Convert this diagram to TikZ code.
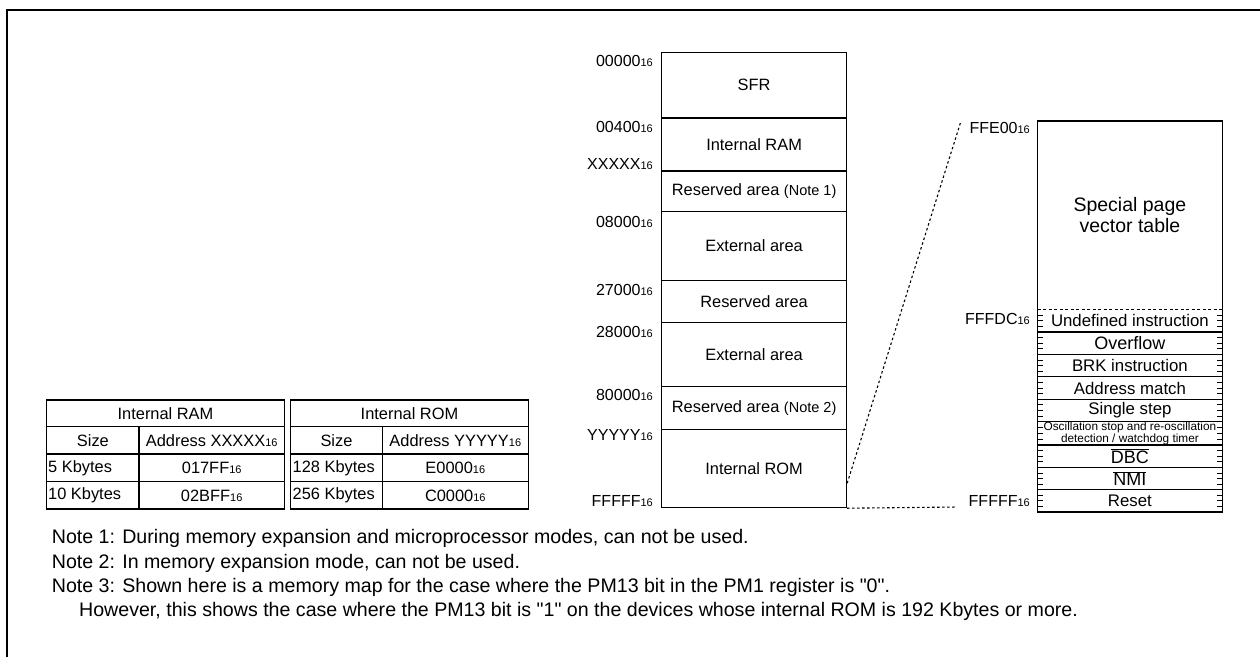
\documentclass[tikz,border=0pt]{standalone}
\usepackage{fontspec}
\setmainfont{Liberation Sans}[Ligatures=TeXOff]
\usetikzlibrary{calc}
\newcommand{\sixteen}{{\fontsize{11}{11}\selectfont 16}}
\tikzset{
  lw/.style={line width=1.2pt},
  blk/.style={draw, line width=1.2pt, minimum width=185pt, inner sep=0pt, anchor=north west, font=\fontsize{16.4}{18}\selectfont},
  addr/.style={inner sep=0pt, anchor=east, font=\fontsize{16}{18}\selectfont},
  vrow/.style={minimum width=184pt, minimum height=21.97pt, inner sep=0pt, anchor=north west, font=\fontsize{16.8}{18}\selectfont},
  cell/.style={inner sep=0pt, font=\fontsize{16.4}{18}\selectfont},
  note/.style={inner sep=0pt, anchor=west, font=\fontsize{19.6}{22}\selectfont},
  dots/.style={line width=1.1pt, dash pattern=on 2.5pt off 2.5pt},
  tick/.style={line width=0.8pt}
}
\begin{document}
\begin{tikzpicture}[x=1pt, y=-1pt]
\useasboundingbox (0,0) rectangle (1260,657);
% frame
\draw[line width=2pt] (6.7,657) -- (6.7,10) -- (1260,10);

% memory map
\node[blk, minimum height=65.6pt] (sfr) at (661,51.7) {SFR};
\node[blk, minimum height=53pt] (iram) at (661,117.3) {Internal RAM};
\node[blk, minimum height=40.7pt] (res1) at (661,170.3) {Reserved area {\fontsize{14.5}{16}\selectfont(Note 1)}};
\node[blk, minimum height=69pt] (ext1) at (661,211) {External area};
\node[blk, minimum height=41.7pt] (res2) at (661,280) {Reserved area};
\node[blk, minimum height=64.3pt] (ext2) at (661,321.7) {External area};
\node[blk, minimum height=43pt] (res3) at (661,386) {Reserved area {\fontsize{14.5}{16}\selectfont(Note 2)}};
\node[blk, minimum height=78pt] (rom) at (661,429) {Internal ROM};

% address labels
\node[addr] (a0) at (653,61) {00000\sixteen};
\node[addr] (a1) at (653,127) {00400\sixteen};
\node[addr] (ax) at (653,164) {XXXXX\sixteen};
\node[addr] (a2) at (653,221.5) {08000\sixteen};
\node[addr] (a3) at (653,289.5) {27000\sixteen};
\node[addr] (a4) at (653,331.5) {28000\sixteen};
\node[addr] (a5) at (653,395) {80000\sixteen};
\node[addr] (ay) at (653,435) {YYYYY\sixteen};
\node[addr] (af) at (653,501) {FFFFF\sixteen};

% vector table
\node[vrow, minimum height=188.3pt, align=center, font=\fontsize{19.5}{21}\selectfont] (spv) at (1037.7,121) {Special page\\vector table};
\node[vrow] (v1) at (spv.south west) {Undefined instruction};
\node[vrow, font=\fontsize{18}{18}\selectfont] (v2) at (v1.south west) {Overflow};
\node[vrow] (v3) at (v2.south west) {BRK instruction};
\node[vrow] (v4) at (v3.south west) {Address match};
\node[vrow] (v5) at (v4.south west) {Single step};
\node[vrow, align=center, font=\fontsize{11.8}{8.6}\selectfont] (v6) at (v5.south west) {Oscillation stop and re-oscillation\\detection / watchdog timer};
\node[vrow, font=\fontsize{18}{18}\selectfont] (v7) at (v6.south west) {$\overline{\mbox{DBC}}$};
\node[vrow, font=\fontsize{18}{18}\selectfont] (v8) at (v7.south west) {$\overline{\mbox{NMI}}$};
\node[vrow] (v9) at (v8.south west) {Reset};

\draw[lw] (spv.north west) rectangle (v9.south east);
\draw[line width=1.1pt, dash pattern=on 3pt off 2.5pt] (spv.south west) -- (spv.south east);
\foreach \n in {v1,v2,v3,v4,v5,v6,v7,v8} {
  \draw[lw] (\n.south west) -- (\n.south east);
}
\foreach \n in {v1,v2,v3,v4,v5,v6,v7,v8,v9} {
  \foreach \f in {0.25,0.5,0.75} {
    \draw[tick] ($(\n.north west)!\f!(\n.south west)$) -- ++(5,0);
    \draw[tick] ($(\n.north east)!\f!(\n.south east)$) -- ++(-5,0);
  }
}

\node[addr] (b0) at (1030,128) {FFE00\sixteen};
\node[addr] (b1) at (1030,319.3) {FFFDC\sixteen};
\node[addr] (b2) at (1030,501) {FFFFF\sixteen};

% zoom lines
\coordinate (zs) at ($(rom.south east)+(0,-25)$);
\coordinate (zt) at (961,121);
\coordinate (ze) at (957,507);
\draw[dots] (zs) -- (zt);
\draw[dots] (rom.south east) -- (ze);

% RAM table
\draw[lw] (46.7,400) rectangle (284.3,509);
\draw[lw] (46.7,426.7) -- (284.3,426.7) (46.7,454) -- (284.3,454) (46.7,481.7) -- (284.3,481.7);
\draw[lw] (139,426.7) -- (139,509);
\node[cell] (t1h) at (165.5,413.5) {Internal RAM};
\node[cell] (t1s) at (92.9,440.5) {Size};
\node[cell] (t1a) at (211.7,440.5) {Address XXXXX\sixteen};
\node[cell, anchor=west] (t1r1) at (48,468) {5 Kbytes};
\node[cell] (t1v1) at (211.7,468) {017FF\sixteen};
\node[cell, anchor=west] (t1r2) at (48,495.5) {10 Kbytes};
\node[cell] (t1v2) at (211.7,495.5) {02BFF\sixteen};

% ROM table
\draw[lw] (290.7,400) rectangle (528.3,509);
\draw[lw] (290.7,426.7) -- (528.3,426.7) (290.7,454) -- (528.3,454) (290.7,481.7) -- (528.3,481.7);
\draw[lw] (382.3,426.7) -- (382.3,509);
\node[cell] (t2h) at (409.5,413.5) {Internal ROM};
\node[cell] (t2s) at (336.5,440.5) {Size};
\node[cell] (t2a) at (455.3,440.5) {Address YYYYY\sixteen};
\node[cell, anchor=west] (t2r1) at (292.5,468) {128 Kbytes};
\node[cell] (t2v1) at (455.3,468) {E0000\sixteen};
\node[cell, anchor=west] (t2r2) at (292.5,495.5) {256 Kbytes};
\node[cell] (t2v2) at (455.3,495.5) {C0000\sixteen};

% notes
\node[note] (n1) at (51.7,538) {Note 1: During memory expansion and microprocessor modes, can not be used.};
\node[note] (n2) at (51.7,563) {Note 2: In memory expansion mode, can not be used.};
\node[note] (n3) at (51.7,587) {Note 3: Shown here is a memory map for the case where the PM13 bit in the PM1 register is "0".};
\node[note] (n4) at (79,611) {However, this shows the case where the PM13 bit is "1" on the devices whose internal ROM is 192 Kbytes or more.};
\end{tikzpicture}
\end{document}
